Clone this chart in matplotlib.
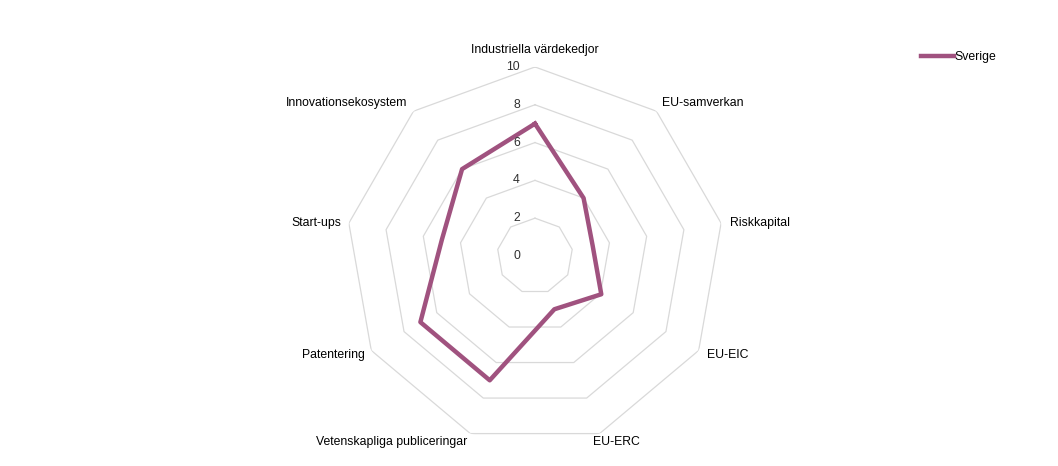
import matplotlib.pyplot as plt
import numpy as np

plt.rcParams['font.family'] = ['Liberation Sans', 'DejaVu Sans']

categories = ["Industriella värdekedjor", "EU-samverkan", "Riskkapital", "EU-EIC",
              "EU-ERC", "Vetenskapliga publiceringar", "Patentering", "Start-ups",
              "Innovationsekosystem"]
sverige = [7.0, 4.0, 3.1, 4.05, 3.0, 7.0, 7.0, 5.0, 6.0]
levels = [2, 4, 6, 8, 10]
level_labels = ["0", "2", "4", "6", "8", "10"]

# label offsets in pixels (dx, dy, ha)
label_pos = [(0, 17, 'center'), (6, 8, 'left'), (9, 0, 'left'), (8, -5, 'left'),
             (-7, -8, 'left'), (-3, -8, 'right'), (-6, -5, 'right'), (-8, 0, 'right'),
             (-6, 8, 'right')]

color = '#a0527f'
n = len(categories)
angles = np.linspace(0, 2 * np.pi, n, endpoint=False)
closed = np.append(angles, angles[0])

fig = plt.figure(figsize=(10.58, 4.66), dpi=100)
ax = fig.add_axes([0.3270, 0.0451, 0.3573, 0.8112], projection='polar')
ax.set_theta_zero_location('N')
ax.set_theta_direction(-1)
ax.set_ylim(0, 10)
ax.set_xticks([])
ax.set_yticks([])
ax.grid(False)
ax.spines['polar'].set_visible(False)

for lv in levels:
    ax.plot(closed, [lv] * (n + 1), color='#d9d9d9', lw=0.9, zorder=1)

vals = np.append(sverige, sverige[0])
ax.plot(closed, vals, color=color, lw=3.2, label='Sverige', zorder=3)

for i, lab in enumerate(level_labels):
    ax.annotate(lab, xy=(0, i * 2), xytext=(-15, 0), textcoords='offset pixels',
                ha='right', va='center', fontsize=8.8, color='#303030')

for ang, cat, (dx, dy, ha) in zip(angles, categories, label_pos):
    ax.annotate(cat, xy=(ang, 10), xytext=(dx, dy), textcoords='offset pixels',
                ha=ha, va='center', fontsize=8.8, color='#000000', annotation_clip=False)

fig.legend(loc='center left', bbox_to_anchor=(0.8645, 0.878), frameon=False,
           fontsize=8.8, handlelength=2.7, handletextpad=0.05, borderpad=0)

fig.savefig('out.png', dpi=100)
